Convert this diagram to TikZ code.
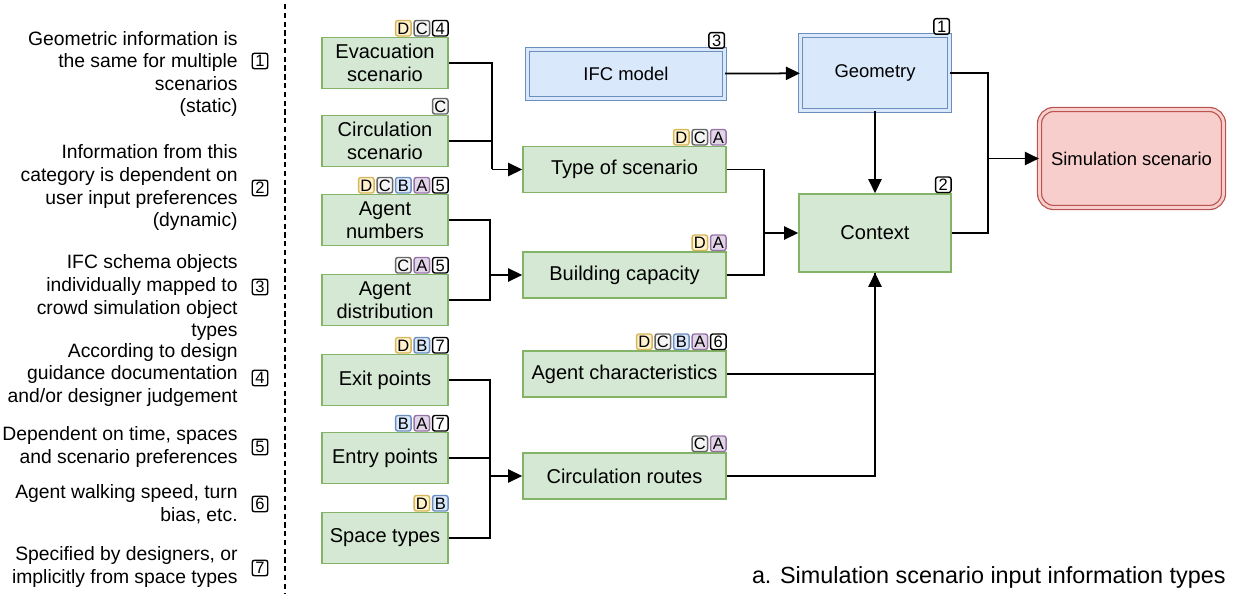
\documentclass[tikz,border=0pt]{standalone}
\usepackage{fontspec}
\setmainfont{Liberation Sans}
\usetikzlibrary{arrows.meta}

\definecolor{greenfill}{HTML}{D5E8D4}
\definecolor{greenline}{HTML}{82B366}
\definecolor{bluefill}{HTML}{DAE8FC}
\definecolor{blueline}{HTML}{6C8EBF}
\definecolor{redfill}{HTML}{F8CECC}
\definecolor{redline}{HTML}{B85450}
\definecolor{yelfill}{HTML}{FFF2CC}
\definecolor{yelline}{HTML}{D6B656}
\definecolor{greyfill}{HTML}{F5F5F5}
\definecolor{greyline}{HTML}{666666}
\definecolor{purfill}{HTML}{E1D5E7}
\definecolor{purline}{HTML}{9673A6}

\tikzset{
  info/.style={draw=greenline, fill=greenfill, line width=0.9pt, align=center, inner sep=0pt,
    font=\fontsize{11.4}{13}\selectfont},
  leftbox/.style={info, minimum width=2.52cm, minimum height=1.02cm},
  midbox/.style={info, minimum width=4.06cm, minimum height=0.92cm},
  rightbox/.style={info, minimum width=3.04cm, minimum height=1.56cm},
  model/.style={draw=blueline, fill=bluefill, double=bluefill, double distance=1.6pt,
    line width=0.7pt, inner sep=0pt, font=\fontsize{10.5}{12}\selectfont},
  result/.style={draw=redline, fill=redfill, double=redfill, double distance=1.6pt,
    line width=0.7pt, rounded corners=8pt, inner sep=0pt, font=\fontsize{10.5}{12}\selectfont},
  badge/.style={draw=black, fill=white, line width=0.8pt, rounded corners=1.3pt,
    minimum width=0.31cm, minimum height=0.31cm, inner sep=0pt, text height=6.7pt, text depth=0pt,
    font=\fontsize{9.4}{10}\selectfont},
  badge D/.style={draw=yelline, fill=yelfill},
  badge C/.style={draw=greyline, fill=greyfill},
  badge B/.style={draw=blueline, fill=bluefill},
  badge A/.style={draw=purline, fill=purfill},
  link/.style={line width=1pt},
  arr/.style={link, -{Triangle[length=8pt,width=7.5pt]}},
  note/.style={align=right, anchor=east, inner sep=0pt, font=\fontsize{11}{12.9}\selectfont},
}

% row of badges sitting on the top right corner of a box
\newcommand{\badges}[2]{%
  \foreach \b [count=\i] in {#2} {\xdef\nbadges{\i}}%
  \foreach \b [count=\i] in {#2}
    \node[badge, badge \b/.try, anchor=south east] (#1-\i)
      at ([xshift={-(\nbadges-\i)*0.37cm}]#1.north east) {\b};%
}

\begin{document}
\begin{tikzpicture}[x=0.02cm, y=-0.02cm]
  \useasboundingbox (0,0) rectangle (1234,594);

  % key
  \node[note] (t1) at (238,74) {Geometric information is\\the same for multiple\\scenarios\\(static)};
  \node[note] (t2) at (238,188) {Information from this\\category is dependent on\\user input preferences\\(dynamic)};
  \node[note] (t3) at (238,298) {IFC schema objects\\individually mapped to\\crowd simulation object\\types};
  \node[note] (t4) at (238,375) {According to design\\guidance documentation\\and/or designer judgement};
  \node[note] (t5) at (238,447) {Dependent on time, spaces\\and scenario preferences};
  \node[note] (t6) at (238,504) {Agent walking speed, turn\\bias, etc.};
  \node[note] (t7) at (238,567) {Specified by designers, or\\implicitly from space types};
  \foreach \n/\y in {1/61, 2/188, 3/287, 4/378, 5/447, 6/504, 7/568}
    \node[badge] (key\n) at (260,\y) {\n};
  \draw[line width=0.8pt, dash pattern=on 3pt off 2pt] (285,4) -- (285,594);

  % inputs
  \node[leftbox] (evac) at (385,63) {Evacuation\\scenario};
  \node[leftbox] (circ) at (385,141) {Circulation\\scenario};
  \node[leftbox] (agnum) at (385,220) {Agent\\numbers};
  \node[leftbox] (agdist) at (385,300) {Agent\\distribution};
  \node[leftbox] (exit) at (385,380) {Exit points};
  \node[leftbox] (entry) at (385,458) {Entry points};
  \node[leftbox] (space) at (385,538) {Space types};

  \node[model, minimum width=3.94cm, minimum height=0.98cm] (ifc) at (626,74) {IFC model};
  \node[midbox] (type) at (624.5,169.5) {Type of scenario};
  \node[midbox] (bcap) at (624.5,275) {Building capacity};
  \node[midbox] (agchar) at (624.5,374) {Agent characteristics};
  \node[midbox] (croutes) at (624.5,476) {Circulation routes};

  \node[model, minimum width=2.98cm, minimum height=1.5cm] (geom) at (875,73) {Geometry};
  \node[rightbox] (context) at (875,233) {Context};
  \node[result, minimum width=3.68cm, minimum height=1.96cm] (sim) at (1131.5,158.5) {Simulation scenario};

  \badges{evac}{D,C,4}
  \badges{circ}{C}
  \badges{agnum}{D,C,B,A,5}
  \badges{agdist}{C,A,5}
  \badges{exit}{D,B,7}
  \badges{entry}{B,A,7}
  \badges{space}{D,B}
  \badges{ifc}{3}
  \badges{type}{D,C,A}
  \badges{bcap}{D,A}
  \badges{agchar}{D,C,B,A,6}
  \badges{croutes}{C,A}
  \badges{geom}{1}
  \badges{context}{2}

  % connectors
  \coordinate (j1) at ([xshift=-0.6cm]type.west);
  \draw[link] (evac.east) -| (j1);
  \draw[link] (circ.east) -| (j1);
  \draw[arr] (j1) -- (type.west);

  \coordinate (j2) at ([xshift=-0.64cm]bcap.west);
  \draw[link] (agnum.east) -| (j2);
  \draw[link] (agdist.east) -| (j2);
  \draw[arr] (j2) -- (bcap.west);

  \coordinate (j3) at ([xshift=-0.64cm]croutes.west);
  \draw[link] (exit.east) -| (j3);
  \draw[link] (entry.east) -| (j3);
  \draw[link] (space.east) -| (j3);
  \draw[arr] (j3) -- (croutes.west);

  \coordinate (j4) at ([xshift=-0.68cm]context.west);
  \draw[link] (type.east) -| (j4);
  \draw[link] (bcap.east) -| (j4);
  \draw[arr] (j4) -- (context.west);

  \draw[arr] (ifc) -- (geom);
  \draw[arr] (geom) -- (context);
  \draw[link] (agchar.east) -| (context.south);
  \draw[arr] (croutes.east) -| (context.south);

  \coordinate (j5) at ([xshift=-1.02cm]sim.west);
  \draw[link] (geom.east) -| (j5);
  \draw[link] (context.east) -| (j5);
  \draw[arr] (j5) -- (sim.west);

  \node[anchor=east, inner sep=0pt, font=\fontsize{13.3}{16}\selectfont] (caption) at (1226,577)
    {a. Simulation scenario input information types};
\end{tikzpicture}
\end{document}
